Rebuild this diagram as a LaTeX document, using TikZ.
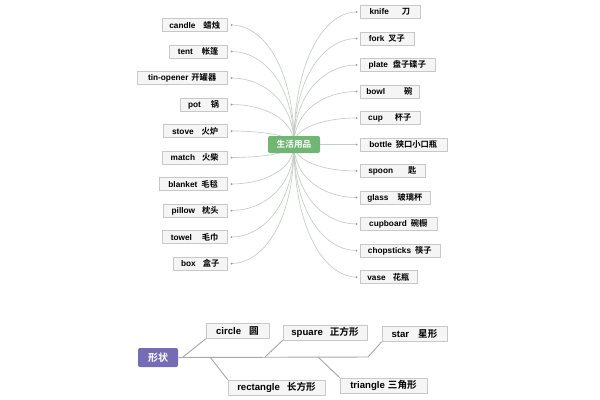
\documentclass[tikz,border=0pt]{standalone}
\usepackage{fontspec}
\setmainfont{Liberation Sans}
\newfontfamily\cjk{Noto Sans CJK SC}[BoldFont={Noto Sans CJK SC Bold}]
\usetikzlibrary{calc,backgrounds}
\definecolor{boxfill}{RGB}{245,245,245}
\definecolor{boxline}{RGB}{200,200,200}
\definecolor{conncol}{RGB}{196,206,196}
\definecolor{dotcol}{RGB}{150,160,150}
\definecolor{greenc}{RGB}{114,182,116}
\definecolor{purplec}{RGB}{118,108,182}
\definecolor{bline}{RGB}{168,168,168}
\newlength\pxu \setlength\pxu{0.75pt}
\newcommand\itm[3]{#1\hspace{#2\pxu}{\cjk #3}}
\begin{document}
\begin{tikzpicture}[x=0.75pt,y=-0.75pt,
  ibox/.style={draw=boxline, fill=boxfill, line width=0.5pt, inner sep=0pt,
    minimum height=9.75pt, font=\fontsize{6.2}{7}\selectfont\bfseries},
  bbox/.style={ibox, minimum height=11.25pt, font=\fontsize{7.2}{8}\selectfont\bfseries},
  wd/.style={minimum width=#1*0.75pt},
  conn/.style={draw=conncol, line width=0.5pt},
  dotc/.style={fill=dotcol, draw=none},
  bconn/.style={draw=bline, line width=0.7pt}]
\useasboundingbox (0,0) rectangle (600,400);

% central node
\node[fill=greenc, text=white, minimum width=39pt, minimum height=12.75pt,
  rounded corners=1.5pt, inner sep=0pt, font=\fontsize{6.5}{7}\selectfont]
  (c) at (294,144.5) {\cjk\bfseries 生活用品};

% left items
\node[ibox,wd=65,anchor=east] (l1) at (227.5,25) {\itm{candle}{8}{蜡烛}};
\node[ibox,wd=58,anchor=east] (l2) at (227.5,51.5) {\itm{tent}{9}{帐篷}};
\node[ibox,wd=90,anchor=east] (l3) at (227.5,78) {\itm{tin-opener}{3}{开罐器}};
\node[ibox,wd=47,anchor=east] (l4) at (227.5,104.5) {\itm{pot}{10}{锅}};
\node[ibox,wd=64,anchor=east] (l5) at (227.5,131) {\itm{stove}{8}{火炉}};
\node[ibox,wd=65,anchor=east] (l6) at (227.5,157.5) {\itm{match}{7}{火柴}};
\node[ibox,wd=68,anchor=east] (l7) at (227.5,184) {\itm{blanket}{4}{毛毯}};
\node[ibox,wd=64,anchor=east] (l8) at (227.5,210.5) {\itm{pillow}{7}{枕头}};
\node[ibox,wd=65,anchor=east] (l9) at (227.5,237) {\itm{towel}{10}{毛巾}};
\node[ibox,wd=54,anchor=east] (l10) at (227.5,263.5) {\itm{box}{7}{盒子}};

% right items
\node[ibox,wd=60,anchor=west] (r1) at (359.5,12) {\itm{knife}{13}{刀}};
\node[ibox,wd=54,anchor=west] (r2) at (359.5,38.5) {\itm{fork}{4}{叉子}};
\node[ibox,wd=75,anchor=west] (r3) at (359.5,65) {\itm{plate}{5}{盘子碟子}};
\node[ibox,wd=59,anchor=west] (r4) at (359.5,91.5) {\itm{bowl}{19}{碗}};
\node[ibox,wd=60,anchor=west] (r5) at (359.5,118) {\itm{cup}{12}{杯子}};
\node[ibox,wd=87,anchor=west] (r6) at (359.5,144.5) {\itm{bottle}{4}{狭口小口瓶}};
\node[ibox,wd=65,anchor=west] (r7) at (359.5,171) {\itm{spoon}{15}{匙}};
\node[ibox,wd=70,anchor=west] (r8) at (359.5,197.5) {\itm{glass}{9}{玻璃杯}};
\node[ibox,wd=77,anchor=west] (r9) at (359.5,224) {\itm{cupboard}{4}{碗橱}};
\node[ibox,wd=80,anchor=west] (r10) at (359.5,250.5) {\itm{chopsticks}{4}{筷子}};
\node[ibox,wd=57,anchor=west] (r11) at (359.5,277) {\itm{vase}{7}{花瓶}};

\foreach \i in {1,...,10} \coordinate (dl\i) at ($(l\i.east)+(4,0)$);
\foreach \i in {1,...,11} \coordinate (dr\i) at ($(r\i.west)+(-3,0)$);

\begin{scope}[on background layer]
  \fill[white] (0,0) rectangle (600,400);
  \foreach \i in {1,...,10}
    \draw[conn] (c.center) .. controls ($(c.center)!0.65!(c.center|-dl\i)$)
      and ($(dl\i)!0.5!(dl\i-|c.center)$) .. (dl\i);
  \foreach \i in {1,...,11}
    \draw[conn] (c.center) .. controls ($(c.center)!0.65!(c.center|-dr\i)$)
      and ($(dr\i)!0.5!(dr\i-|c.center)$) .. (dr\i);
\end{scope}
\foreach \i in {1,...,10} \fill[dotc] (dl\i) circle (1);
\foreach \i in {1,...,11} \fill[dotc] (dr\i) circle (1);

% shapes part
\node[fill=purplec, text=white, minimum width=30pt, minimum height=14.25pt,
  rounded corners=1.5pt, inner sep=0pt, font=\fontsize{7.5}{8}\selectfont]
  (s) at (158,357.5) {\cjk\bfseries 形状};
\node[bbox,wd=63] (ci) at (237.5,331) {\itm{circle}{8}{圆}};
\node[bbox,wd=84] (sq) at (325,332.5) {\itm{spuare}{7}{正方形}};
\node[bbox,wd=65] (st) at (414.5,334) {\itm{star}{9}{星形}};
\node[bbox,wd=97] (re) at (276.5,387.5) {\itm{rectangle}{7}{长方形}};
\node[bbox,wd=87] (tr) at (383.5,385.5) {\itm{triangle}{3}{三角形}};

\coordinate (h1) at (183,357);
\coordinate (h2) at (210,357);
\coordinate (h3) at (265,357);
\coordinate (h4) at (318,357);
\coordinate (h5) at (368,357);
\draw[bconn] (s.east) -- (h5);
\draw[bconn] (h1) -- (ci.south west);
\draw[bconn] (h3) -- (sq.south west);
\draw[bconn] (h5) -- (st.south west);
\draw[bconn] (h2) -- (re.north west);
\draw[bconn] (h4) -- (tr.north west);
\end{tikzpicture}
\end{document}
